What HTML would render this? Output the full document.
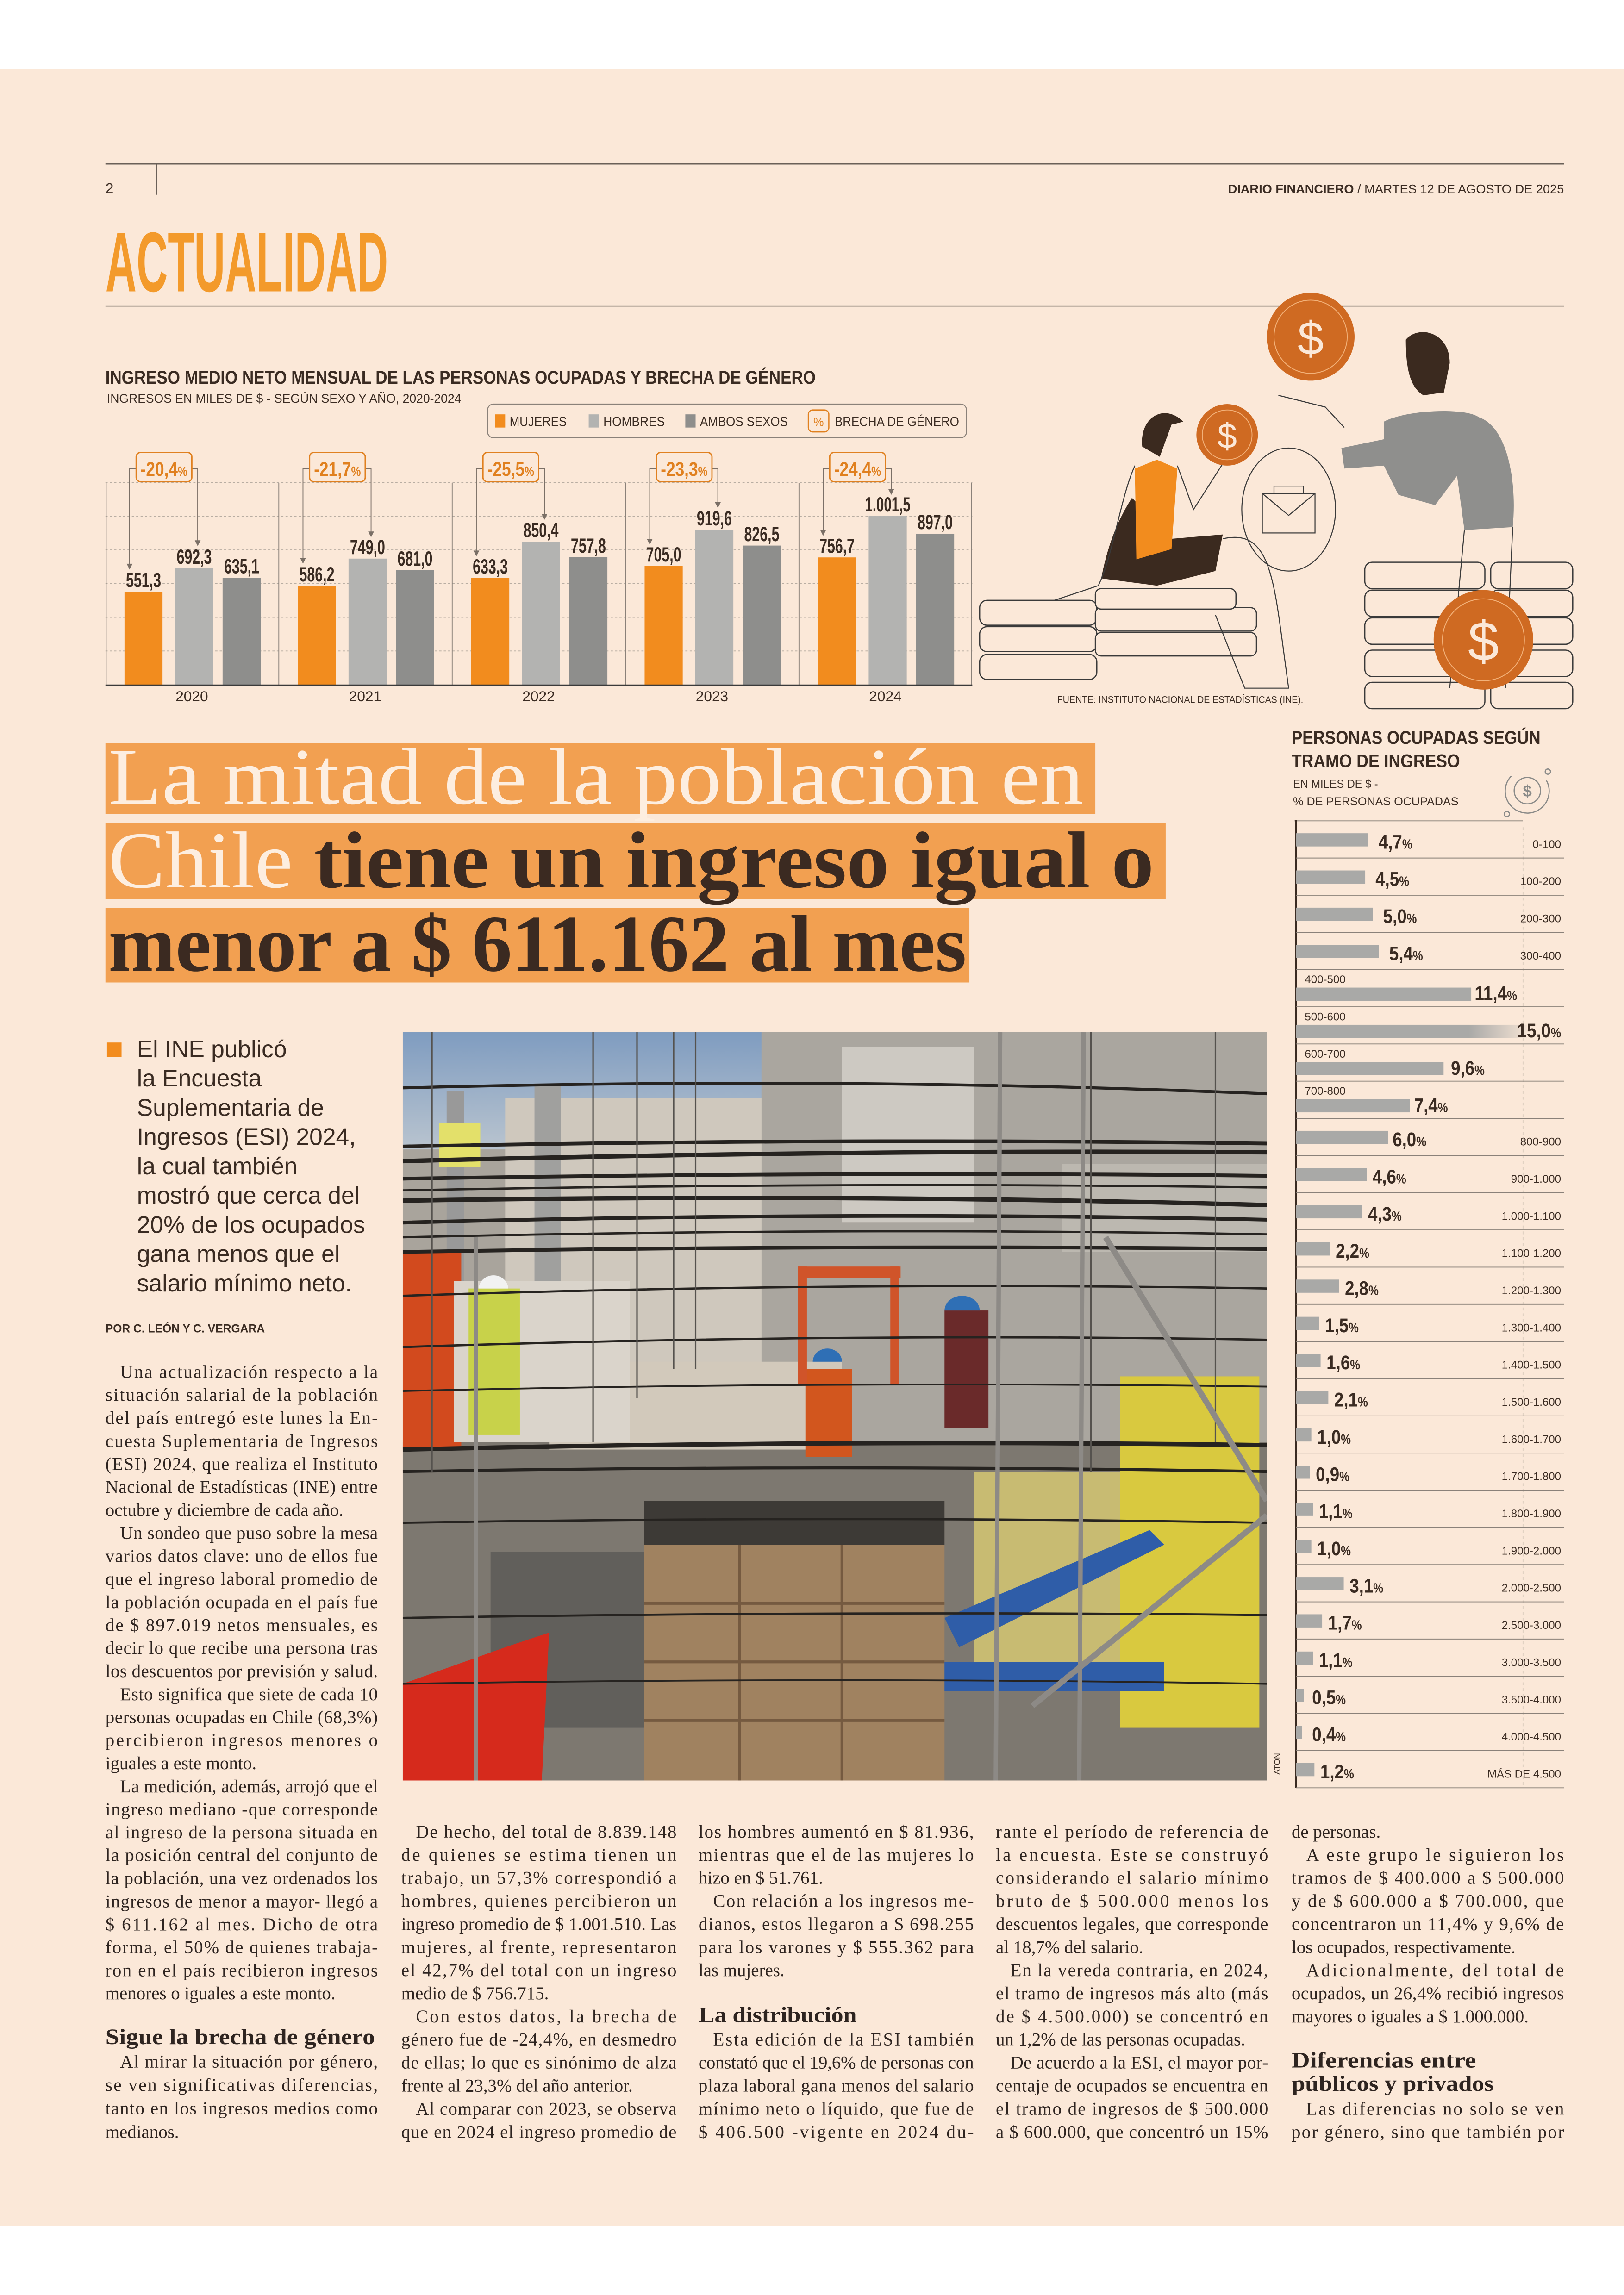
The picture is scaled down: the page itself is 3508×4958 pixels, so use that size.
<!DOCTYPE html>
<html><head><meta charset="utf-8"><style>
html,body{margin:0;padding:0;background:#fff}
svg{display:block}
</style></head><body>
<svg xmlns="http://www.w3.org/2000/svg" width="3508" height="4958" viewBox="0 0 1109 1567.4">
<style>
.b{font-family:"Liberation Serif",serif;font-size:12.3px;fill:#2e2420}
.h{font-family:"Liberation Serif",serif;font-size:15px;font-weight:bold;fill:#2e2420}
.s{font-family:"Liberation Sans",sans-serif;fill:#3a2b22}
.v{font-family:"Liberation Sans",sans-serif;font-weight:bold;font-size:14px;fill:#3a2b22}
.pc{font-family:"Liberation Sans",sans-serif;font-weight:bold;font-size:13.5px;fill:#3a2b22}
.ps{font-size:9px}
.rl{font-family:"Liberation Sans",sans-serif;font-size:7.6px;fill:#3a2b22}
.br{font-family:"Liberation Sans",sans-serif;font-weight:bold;font-size:13.5px;fill:#e0801f}
.sep{stroke:#8a8179;stroke-width:0.6}
.bar{fill:#a9a9a7}
.ln{stroke:#3a3a3a;stroke-width:0.8;fill:#fbe8d8}
</style>
<rect x="0" y="0" width="1109" height="1567.4" fill="#ffffff"/>
<rect x="0" y="47" width="1109" height="1473" fill="#fbe8d8"/>

<!-- header -->
<line x1="72" y1="112" x2="1068" y2="112" stroke="#6a6058" stroke-width="0.8"/>
<line x1="107" y1="112" x2="107" y2="133" stroke="#6a6058" stroke-width="0.8"/>
<text class="s" x="72" y="132" font-size="10">2</text>
<text class="s" x="1068" y="132" font-size="8.6" text-anchor="end"><tspan font-weight="bold">DIARIO FINANCIERO</tspan> / MARTES 12 DE AGOSTO DE 2025</text>
<text x="72" y="199" font-family="Liberation Sans,sans-serif" font-weight="bold" font-size="58" fill="#f39a2b" textLength="193" lengthAdjust="spacingAndGlyphs">ACTUALIDAD</text>
<line x1="72" y1="209" x2="1068" y2="209" stroke="#6a6058" stroke-width="0.8"/>

<!-- bar chart -->
<text class="s" x="72" y="262" font-size="12.5" font-weight="bold" textLength="485" lengthAdjust="spacingAndGlyphs">INGRESO MEDIO NETO MENSUAL DE LAS PERSONAS OCUPADAS Y BRECHA DE GÉNERO</text>
<text class="s" x="73" y="275" font-size="8.5" textLength="242" lengthAdjust="spacingAndGlyphs">INGRESOS EN MILES DE $ -  SEGÚN SEXO Y AÑO, 2020-2024</text>
<rect x="333" y="276" width="327" height="23" rx="4" fill="none" stroke="#8a8179" stroke-width="0.7"/>
<rect x="338" y="283" width="7" height="9" fill="#f28c1e"/><text class="s" x="348" y="291" font-size="9" textLength="39" lengthAdjust="spacingAndGlyphs">MUJERES</text>
<rect x="402" y="283" width="7" height="9" fill="#b3b3b1"/><text class="s" x="412" y="291" font-size="9" textLength="42" lengthAdjust="spacingAndGlyphs">HOMBRES</text>
<rect x="468" y="283" width="7" height="9" fill="#8e8e8c"/><text class="s" x="478" y="291" font-size="9" textLength="60" lengthAdjust="spacingAndGlyphs">AMBOS SEXOS</text>
<rect x="552" y="280" width="14" height="15" rx="3" fill="none" stroke="#e0801f" stroke-width="0.8"/><text x="559" y="291" font-family="Liberation Sans,sans-serif" font-size="8" fill="#e0801f" text-anchor="middle">%</text>
<text class="s" x="570" y="291" font-size="9" textLength="85" lengthAdjust="spacingAndGlyphs">BRECHA DE GÉNERO</text>

<g stroke="#b8ada2" stroke-width="0.6" stroke-dasharray="1.5,1.5">
<line x1="72" y1="329.6" x2="664" y2="329.6"/><line x1="72" y1="352.6" x2="664" y2="352.6"/><line x1="72" y1="375.6" x2="664" y2="375.6"/><line x1="72" y1="398.6" x2="664" y2="398.6"/><line x1="72" y1="421.6" x2="664" y2="421.6"/><line x1="72" y1="444.6" x2="664" y2="444.6"/>
</g>
<g stroke="#8a8179" stroke-width="0.6">
<line x1="72.5" y1="330" x2="72.5" y2="468"/><line x1="190.4" y1="330" x2="190.4" y2="468"/><line x1="308.8" y1="330" x2="308.8" y2="468"/><line x1="427.2" y1="330" x2="427.2" y2="468"/><line x1="545.6" y1="330" x2="545.6" y2="468"/><line x1="663.5" y1="330" x2="663.5" y2="468"/>
</g>
<!-- 2020 -->
<rect x="85" y="404.3" width="26" height="63.3" fill="#f28c1e"/><rect x="119.6" y="388.1" width="26" height="79.5" fill="#b3b3b1"/><rect x="152" y="394.6" width="26" height="73" fill="#8e8e8c"/>
<text class="v" x="98" y="401" text-anchor="middle" textLength="24" lengthAdjust="spacingAndGlyphs">551,3</text>
<text class="v" x="132.6" y="385" text-anchor="middle" textLength="24" lengthAdjust="spacingAndGlyphs">692,3</text>
<text class="v" x="165" y="391.5" text-anchor="middle" textLength="24" lengthAdjust="spacingAndGlyphs">635,1</text>
<!-- 2021 -->
<rect x="203.4" y="400.2" width="26" height="67.4" fill="#f28c1e"/><rect x="238" y="381.5" width="26" height="86.1" fill="#b3b3b1"/><rect x="270.4" y="389.4" width="26" height="78.2" fill="#8e8e8c"/>
<text class="v" x="216.4" y="397" text-anchor="middle" textLength="24" lengthAdjust="spacingAndGlyphs">586,2</text>
<text class="v" x="251" y="378.4" text-anchor="middle" textLength="24" lengthAdjust="spacingAndGlyphs">749,0</text>
<text class="v" x="283.4" y="386.3" text-anchor="middle" textLength="24" lengthAdjust="spacingAndGlyphs">681,0</text>
<!-- 2022 -->
<rect x="321.8" y="394.8" width="26" height="72.8" fill="#f28c1e"/><rect x="356.4" y="369.9" width="26" height="97.7" fill="#b3b3b1"/><rect x="388.8" y="380.5" width="26" height="87.1" fill="#8e8e8c"/>
<text class="v" x="334.8" y="391.7" text-anchor="middle" textLength="24" lengthAdjust="spacingAndGlyphs">633,3</text>
<text class="v" x="369.4" y="366.8" text-anchor="middle" textLength="24" lengthAdjust="spacingAndGlyphs">850,4</text>
<text class="v" x="401.8" y="377.4" text-anchor="middle" textLength="24" lengthAdjust="spacingAndGlyphs">757,8</text>
<!-- 2023 -->
<rect x="440.2" y="386.6" width="26" height="81" fill="#f28c1e"/><rect x="474.8" y="361.9" width="26" height="105.7" fill="#b3b3b1"/><rect x="507.2" y="372.6" width="26" height="95" fill="#8e8e8c"/>
<text class="v" x="453.2" y="383.5" text-anchor="middle" textLength="24" lengthAdjust="spacingAndGlyphs">705,0</text>
<text class="v" x="487.8" y="358.8" text-anchor="middle" textLength="24" lengthAdjust="spacingAndGlyphs">919,6</text>
<text class="v" x="520.2" y="369.5" text-anchor="middle" textLength="24" lengthAdjust="spacingAndGlyphs">826,5</text>
<!-- 2024 -->
<rect x="558.6" y="380.7" width="26" height="86.9" fill="#f28c1e"/><rect x="593.2" y="352.5" width="26" height="115.1" fill="#b3b3b1"/><rect x="625.6" y="364.5" width="26" height="103.1" fill="#8e8e8c"/>
<text class="v" x="571.6" y="377.6" text-anchor="middle" textLength="24" lengthAdjust="spacingAndGlyphs">756,7</text>
<text class="v" x="606.2" y="349.4" text-anchor="middle" textLength="31" lengthAdjust="spacingAndGlyphs">1.001,5</text>
<text class="v" x="638.6" y="361.4" text-anchor="middle" textLength="24" lengthAdjust="spacingAndGlyphs">897,0</text>
<line x1="72" y1="468" x2="664" y2="468" stroke="#3a3a3a" stroke-width="1"/>
<g class="s" font-size="10" text-anchor="middle">
<text x="131" y="479">2020</text><text x="249.4" y="479">2021</text><text x="367.8" y="479">2022</text><text x="486.2" y="479">2023</text><text x="604.6" y="479">2024</text>
</g>
<!-- brecha boxes -->
<g stroke="#7a6f66" stroke-width="0.6" fill="none">
<path d="M93 320 H88.5 V386"/><path d="M131 320 H135 V370"/>
<path d="M211.4 320 H206.9 V382"/><path d="M249.4 320 H253.4 V364"/>
<path d="M329.8 320 H325.3 V377"/><path d="M367.8 320 H371.8 V352"/>
<path d="M448.2 320 H443.7 V369"/><path d="M486.2 320 H490.2 V344"/>
<path d="M566.6 320 H562.1 V363"/><path d="M604.6 320 H608.6 V335"/>
</g>
<g fill="#7a6f66">
<path d="M86.5 385 L90.5 385 L88.5 389Z"/><path d="M133 369 L137 369 L135 373Z"/>
<path d="M204.9 381 L208.9 381 L206.9 385Z"/><path d="M251.4 363 L255.4 363 L253.4 367Z"/>
<path d="M323.3 376 L327.3 376 L325.3 380Z"/><path d="M369.8 351 L373.8 351 L371.8 355Z"/>
<path d="M441.7 368 L445.7 368 L443.7 372Z"/><path d="M488.2 343 L492.2 343 L490.2 347Z"/>
<path d="M560.1 362 L564.1 362 L562.1 366Z"/><path d="M606.6 334 L610.6 334 L608.6 338Z"/>
</g>
<g fill="#fbe8d8" stroke="#e0801f" stroke-width="0.9">
<rect x="93" y="309" width="38" height="20" rx="3"/><rect x="211.4" y="309" width="38" height="20" rx="3"/><rect x="329.8" y="309" width="38" height="20" rx="3"/><rect x="448.2" y="309" width="38" height="20" rx="3"/><rect x="566.6" y="309" width="38" height="20" rx="3"/>
</g>
<text class="br" x="96" y="325" textLength="32" lengthAdjust="spacingAndGlyphs">-20,4<tspan font-size="9">%</tspan></text>
<text class="br" x="214.4" y="325" textLength="32" lengthAdjust="spacingAndGlyphs">-21,7<tspan font-size="9">%</tspan></text>
<text class="br" x="332.8" y="325" textLength="32" lengthAdjust="spacingAndGlyphs">-25,5<tspan font-size="9">%</tspan></text>
<text class="br" x="451.2" y="325" textLength="32" lengthAdjust="spacingAndGlyphs">-23,3<tspan font-size="9">%</tspan></text>
<text class="br" x="569.6" y="325" textLength="32" lengthAdjust="spacingAndGlyphs">-24,4<tspan font-size="9">%</tspan></text>

<!-- illustration -->
<g>
<g class="ln">
<rect x="669" y="447" width="80" height="17" rx="5"/><rect x="669" y="428" width="80" height="17" rx="5"/><rect x="669" y="410" width="80" height="17" rx="5"/>
<rect x="748" y="432" width="110" height="16" rx="4"/><rect x="748" y="415" width="110" height="16" rx="4"/><rect x="748" y="402" width="96" height="14" rx="4"/>
</g>
<g class="ln">
<rect x="932" y="466" width="82" height="18" rx="5"/><rect x="932" y="444" width="82" height="18" rx="5"/><rect x="932" y="422" width="82" height="18" rx="5"/><rect x="932" y="403" width="82" height="18" rx="5"/><rect x="932" y="384" width="82" height="18" rx="5"/>
<rect x="1018" y="466" width="56" height="18" rx="5"/><rect x="1018" y="444" width="56" height="18" rx="5"/><rect x="1018" y="422" width="56" height="18" rx="5"/><rect x="1018" y="403" width="56" height="18" rx="5"/><rect x="1018" y="384" width="56" height="18" rx="5"/>
</g>
<ellipse cx="880" cy="348" rx="32" ry="42" fill="none" stroke="#3a3a3a" stroke-width="0.7"/>
<rect x="862" y="337" width="36" height="27" fill="none" stroke="#3a3a3a" stroke-width="0.7"/>
<path d="M870 337 V332 H890 V337 M862 337 L880 352 L898 337" fill="none" stroke="#3a3a3a" stroke-width="0.7"/>
<!-- woman -->
<path d="M773 340 C760 360 755 380 752 395 L790 400 L830 390 L835 365 L800 368 Z" fill="#3b2a1f"/>
<path d="M775 320 L790 314 L804 320 L800 375 L776 382 Z" fill="#f28c1e"/>
<path d="M775 318 C765 340 760 380 750 400 L720 410 M804 318 L815 348 L838 312 M835 368 C870 360 870 400 880 470 L850 470 L830 420" fill="none" stroke="#3a3a3a" stroke-width="0.7"/>
<path d="M780 305 C778 285 795 275 808 288 L800 290 L792 312 Z" fill="#3b2a1f"/>
<!-- man -->
<path d="M945 288 C960 280 1000 278 1010 285 C1030 292 1036 330 1033 360 L1000 362 L995 325 L980 345 L955 338 L945 318 L918 320 L916 306 L945 300 Z" fill="#8f8f8d"/>
<path d="M1000 362 L990 470 M1033 360 L1028 470" fill="none" stroke="#3a3a3a" stroke-width="0.7"/>
<path d="M960 232 C968 222 990 226 990 248 L986 268 L972 270 C964 265 960 255 960 232Z" fill="#3b2a1f"/>
<path d="M873 270 L905 278 L918 292" fill="none" stroke="#3a3a3a" stroke-width="0.7"/>
<!-- coins -->
<circle cx="895" cy="230" r="30" fill="#cf6a22"/><circle cx="895" cy="230" r="25" fill="none" stroke="#f3b27a" stroke-width="0.6"/>
<text x="895" y="242" font-family="Liberation Sans,sans-serif" font-size="32" fill="#fbe8d8" text-anchor="middle">$</text>
<circle cx="838" cy="297" r="21" fill="#cf6a22"/><circle cx="838" cy="297" r="17" fill="none" stroke="#f3b27a" stroke-width="0.6"/>
<text x="838" y="306" font-family="Liberation Sans,sans-serif" font-size="24" fill="#fbe8d8" text-anchor="middle">$</text>
<circle cx="1013" cy="437" r="34" fill="#cf6a22"/><circle cx="1013" cy="437" r="28" fill="none" stroke="#f3b27a" stroke-width="0.6"/>
<text x="1013" y="451" font-family="Liberation Sans,sans-serif" font-size="38" fill="#fbe8d8" text-anchor="middle">$</text>
</g>
<text class="s" x="722" y="480" font-size="6.6" textLength="168" lengthAdjust="spacingAndGlyphs">FUENTE: INSTITUTO NACIONAL DE ESTADÍSTICAS (INE).</text>

<!-- headline -->
<rect x="72" y="507.5" width="676" height="48.5" fill="#f2a051"/>
<rect x="72" y="562" width="724" height="52" fill="#f2a051"/>
<rect x="72" y="620" width="590" height="51" fill="#f2a051"/>
<g font-family="Liberation Serif,serif" font-size="55">
<text x="74" y="549" fill="#fdeee0" textLength="666" lengthAdjust="spacingAndGlyphs">La mitad de la población en</text>
<text x="74" y="606" fill="#3b2a21" textLength="714" lengthAdjust="spacingAndGlyphs"><tspan fill="#fdeee0">Chile</tspan> <tspan font-weight="bold">tiene un ingreso igual o</tspan></text>
<text x="74" y="663" fill="#3b2a21" font-weight="bold" textLength="586" lengthAdjust="spacingAndGlyphs">menor a $ 611.162 al mes</text>
</g>

<!-- bullet -->
<rect x="73" y="712" width="10" height="10" fill="#f28c1e"/>
<g class="s" font-size="16.3">
<text x="93.5" y="722">El INE publicó</text>
<text x="93.5" y="742">la Encuesta</text>
<text x="93.5" y="762">Suplementaria de</text>
<text x="93.5" y="782">Ingresos (ESI) 2024,</text>
<text x="93.5" y="802">la cual también</text>
<text x="93.5" y="822">mostró que cerca del</text>
<text x="93.5" y="842">20% de los ocupados</text>
<text x="93.5" y="862">gana menos que el</text>
<text x="93.5" y="882">salario mínimo neto.</text>
</g>
<text class="s" x="72" y="910" font-size="7.8" font-weight="bold">POR C. LEÓN Y C. VERGARA</text>

<!-- photo -->
<svg x="275" y="705" width="590" height="511" viewBox="0 0 590 511">
<defs><linearGradient id="sky" x1="0" y1="0" x2="0" y2="1"><stop offset="0" stop-color="#7f9cc0"/><stop offset="1" stop-color="#b9c4cf"/></linearGradient></defs>
<rect width="590" height="511" fill="#a9a49c"/>
<rect width="245" height="80" fill="url(#sky)"/>
<rect x="70" y="45" width="200" height="230" fill="#cfc8bd"/>
<rect x="245" y="0" width="345" height="300" fill="#aaa69f"/>
<rect x="300" y="10" width="90" height="120" fill="#cdc9c2"/>
<rect x="30" y="40" width="12" height="200" fill="#999"/>
<rect x="90" y="35" width="18" height="230" fill="#a0a09e"/>
<rect x="25" y="62" width="28" height="30" fill="#e3e06a"/>
<rect x="0" y="280" width="590" height="231" fill="#7d7870"/>
<rect x="100" y="225" width="200" height="60" fill="#d2c9bb"/>
<rect x="490" y="235" width="95" height="240" fill="#d9c93f"/>
<rect x="390" y="300" width="100" height="150" fill="#c8bb72"/>
<rect x="165" y="320" width="205" height="30" fill="#3d3a36"/>
<rect x="165" y="350" width="205" height="161" fill="#a08260"/>
<g stroke="#755a40" stroke-width="2"><line x1="165" y1="390" x2="370" y2="390"/><line x1="165" y1="430" x2="370" y2="430"/><line x1="165" y1="470" x2="370" y2="470"/><line x1="230" y1="350" x2="230" y2="511"/><line x1="300" y1="350" x2="300" y2="511"/></g>
<rect x="60" y="355" width="105" height="120" fill="#615f5b"/>
<path d="M0 445 L70 420 L100 410 L95 511 L0 511Z" fill="#d62a1c"/>
<path d="M370 400 L510 340 L520 350 L380 420Z" fill="#2f5da8"/>
<rect x="370" y="430" width="150" height="20" fill="#2f5da8"/>
<rect x="0" y="150" width="40" height="135" fill="#d24a1e"/>
<rect x="35" y="170" width="120" height="110" fill="#dad4cb"/>
<rect x="45" y="175" width="35" height="100" fill="#c8d24a"/>
<rect x="275" y="230" width="32" height="60" fill="#d2561e"/>
<rect x="370" y="190" width="30" height="80" fill="#6a2a2a"/>
<rect x="450" y="90" width="140" height="60" fill="#bcb8b0"/>
<path d="M52 175 a10 9 0 0 1 20 0Z" fill="#f2f2f2"/>
<path d="M370 190 a12 10 0 0 1 24 0Z" fill="#2f6fb5"/>
<path d="M280 225 a10 9 0 0 1 20 0Z" fill="#2f6fb5"/>
<rect x="270" y="160" width="70" height="8" fill="#d0542a"/><rect x="270" y="160" width="6" height="80" fill="#d0542a"/><rect x="333" y="160" width="6" height="80" fill="#d0542a"/>
<g stroke="#262320" fill="none">
<path d="M0 38 Q300 30 590 42" stroke-width="2"/>
<path d="M0 78 Q300 72 590 76" stroke-width="2.5"/>
<path d="M0 88 Q300 80 590 82" stroke-width="3"/>
<path d="M0 100 Q300 95 590 98" stroke-width="2.5"/>
<path d="M0 108 Q300 102 590 106" stroke-width="1.5"/>
<path d="M0 115 Q300 110 590 118" stroke-width="3"/>
<path d="M0 130 Q300 122 590 128" stroke-width="2.5"/>
<path d="M0 140 Q300 133 590 138" stroke-width="1.5"/>
<path d="M0 150 Q300 145 590 148" stroke-width="2.5"/>
<path d="M0 180 Q300 170 590 175" stroke-width="1.5"/>
<path d="M0 215 Q300 205 590 210" stroke-width="1.5"/>
<path d="M0 245 Q300 238 590 242" stroke-width="1.2"/>
<path d="M0 285 Q300 278 590 282" stroke-width="3"/>
<path d="M0 300 Q300 295 590 300" stroke-width="2"/>
<path d="M0 335 Q300 330 590 335" stroke-width="1.5"/>
<path d="M0 400 Q300 395 590 398" stroke-width="1.5"/>
<path d="M0 445 Q300 440 590 445" stroke-width="1.2"/>
</g>
<g stroke="#55524e" stroke-width="1"><line x1="20" y1="0" x2="20" y2="300"/><line x1="130" y1="0" x2="130" y2="280"/><line x1="160" y1="0" x2="160" y2="250"/><line x1="185" y1="0" x2="185" y2="230"/><line x1="200" y1="0" x2="200" y2="230"/><line x1="470" y1="0" x2="470" y2="300"/><line x1="555" y1="0" x2="555" y2="280"/></g>
<g stroke="#8d8a86" stroke-width="3"><line x1="408" y1="0" x2="405" y2="511"/><line x1="465" y1="0" x2="462" y2="511"/><line x1="50" y1="140" x2="50" y2="511"/></g>
<path d="M480 140 L590 320" stroke="#8d8a86" stroke-width="4"/>
<path d="M430 460 L590 330" stroke="#8d8a86" stroke-width="4"/>
</svg>
<text x="874" y="1212" font-family="Liberation Sans,sans-serif" font-size="5.5" fill="#3a2b22" transform="rotate(-90 874 1212)">ATON</text>

<!-- sidebar -->
<text class="s" x="882" y="508" font-size="12.5" font-weight="bold" textLength="170" lengthAdjust="spacingAndGlyphs">PERSONAS OCUPADAS SEGÚN</text>
<text class="s" x="882" y="524" font-size="12.5" font-weight="bold" textLength="115" lengthAdjust="spacingAndGlyphs">TRAMO DE INGRESO</text>
<text class="s" x="883" y="538" font-size="8" textLength="58" lengthAdjust="spacingAndGlyphs">EN MILES DE $ -</text>
<text class="s" x="883" y="550" font-size="8" textLength="113" lengthAdjust="spacingAndGlyphs">% DE PERSONAS OCUPADAS</text>
<g fill="none" stroke="#8a8a88" stroke-width="0.8">
<circle cx="1043" cy="540" r="9"/><path d="M1032 530 A15 15 0 1 0 1056 533"/><circle cx="1057" cy="527" r="1.8"/><circle cx="1029" cy="556" r="1.8"/>
</g>
<text x="1043" y="544" font-family="Liberation Sans,sans-serif" font-weight="bold" font-size="11" fill="#8a8a88" text-anchor="middle">$</text>
<line x1="884" y1="560.6" x2="1040" y2="560.6" class="sep"/>
<line x1="885" y1="560" x2="885" y2="1221" stroke="#3a2b22" stroke-width="1"/>
<line x1="1040" y1="565" x2="1040" y2="1221" stroke="#c9bdb0" stroke-width="0.5" stroke-dasharray="2,2"/>
<g class="sep">
<line x1="885" y1="586" x2="1068" y2="586"/><line x1="885" y1="611.4" x2="1068" y2="611.4"/><line x1="885" y1="636.8" x2="1068" y2="636.8"/><line x1="885" y1="662.2" x2="1068" y2="662.2"/><line x1="885" y1="687.6" x2="1068" y2="687.6"/><line x1="885" y1="713" x2="1068" y2="713"/><line x1="885" y1="738.4" x2="1068" y2="738.4"/><line x1="885" y1="763.8" x2="1068" y2="763.8"/><line x1="885" y1="789.2" x2="1068" y2="789.2"/><line x1="885" y1="814.6" x2="1068" y2="814.6"/><line x1="885" y1="840" x2="1068" y2="840"/><line x1="885" y1="865.4" x2="1068" y2="865.4"/><line x1="885" y1="890.8" x2="1068" y2="890.8"/><line x1="885" y1="916.2" x2="1068" y2="916.2"/><line x1="885" y1="941.6" x2="1068" y2="941.6"/><line x1="885" y1="967" x2="1068" y2="967"/><line x1="885" y1="992.4" x2="1068" y2="992.4"/><line x1="885" y1="1017.8" x2="1068" y2="1017.8"/><line x1="885" y1="1043.2" x2="1068" y2="1043.2"/><line x1="885" y1="1068.6" x2="1068" y2="1068.6"/><line x1="885" y1="1094" x2="1068" y2="1094"/><line x1="885" y1="1119.4" x2="1068" y2="1119.4"/><line x1="885" y1="1144.8" x2="1068" y2="1144.8"/><line x1="885" y1="1170.2" x2="1068" y2="1170.2"/><line x1="885" y1="1195.6" x2="1068" y2="1195.6"/><line x1="885" y1="1221" x2="1068" y2="1221"/>
</g>
<g>
<rect class="bar" x="885" y="569.1" width="49.4" height="9"/><text class="pc" x="941.4" y="579.6" textLength="23" lengthAdjust="spacingAndGlyphs">4,7<tspan class="ps">%</tspan></text><text class="rl" x="1066" y="579.1" text-anchor="end">0-100</text>
<rect class="bar" x="885" y="594.5" width="47.3" height="9"/><text class="pc" x="939.3" y="605" textLength="23" lengthAdjust="spacingAndGlyphs">4,5<tspan class="ps">%</tspan></text><text class="rl" x="1066" y="604.5" text-anchor="end">100-200</text>
<rect class="bar" x="885" y="619.9" width="52.5" height="9"/><text class="pc" x="944.5" y="630.4" textLength="23" lengthAdjust="spacingAndGlyphs">5,0<tspan class="ps">%</tspan></text><text class="rl" x="1066" y="629.9" text-anchor="end">200-300</text>
<rect class="bar" x="885" y="645.3" width="56.7" height="9"/><text class="pc" x="948.7" y="655.8" textLength="23" lengthAdjust="spacingAndGlyphs">5,4<tspan class="ps">%</tspan></text><text class="rl" x="1066" y="655.3" text-anchor="end">300-400</text>
<rect class="bar" x="885" y="674.5" width="119.7" height="9"/><text class="pc" x="1007" y="683" textLength="29" lengthAdjust="spacingAndGlyphs">11,4<tspan class="ps">%</tspan></text><text class="rl" x="891" y="671.5">400-500</text>
<defs><linearGradient id="fade" x1="0" x2="1"><stop offset="0.75" stop-color="#a9a9a7"/><stop offset="1" stop-color="#a9a9a7" stop-opacity="0.1"/></linearGradient></defs>
<rect x="885" y="699.9" width="157.5" height="9" fill="url(#fade)"/><text class="pc" x="1036" y="708.5" textLength="30" lengthAdjust="spacingAndGlyphs">15,0<tspan class="ps">%</tspan></text><text class="rl" x="891" y="696.9">500-600</text>
<rect class="bar" x="885" y="725.3" width="100.8" height="9"/><text class="pc" x="990.8" y="734" textLength="23" lengthAdjust="spacingAndGlyphs">9,6<tspan class="ps">%</tspan></text><text class="rl" x="891" y="722.3">600-700</text>
<rect class="bar" x="885" y="750.7" width="77.7" height="9"/><text class="pc" x="965.7" y="759.5" textLength="23" lengthAdjust="spacingAndGlyphs">7,4<tspan class="ps">%</tspan></text><text class="rl" x="891" y="747.7">700-800</text>
<rect class="bar" x="885" y="772.3" width="63" height="9"/><text class="pc" x="951" y="782.8" textLength="23" lengthAdjust="spacingAndGlyphs">6,0<tspan class="ps">%</tspan></text><text class="rl" x="1066" y="782.3" text-anchor="end">800-900</text>
<rect class="bar" x="885" y="797.7" width="48.3" height="9"/><text class="pc" x="937.3" y="808.2" textLength="23" lengthAdjust="spacingAndGlyphs">4,6<tspan class="ps">%</tspan></text><text class="rl" x="1066" y="807.7" text-anchor="end">900-1.000</text>
<rect class="bar" x="885" y="823.1" width="45.2" height="9"/><text class="pc" x="934.2" y="833.6" textLength="23" lengthAdjust="spacingAndGlyphs">4,3<tspan class="ps">%</tspan></text><text class="rl" x="1066" y="833.1" text-anchor="end">1.000-1.100</text>
<rect class="bar" x="885" y="848.5" width="23.1" height="9"/><text class="pc" x="912.1" y="859" textLength="23" lengthAdjust="spacingAndGlyphs">2,2<tspan class="ps">%</tspan></text><text class="rl" x="1066" y="858.5" text-anchor="end">1.100-1.200</text>
<rect class="bar" x="885" y="873.9" width="29.4" height="9"/><text class="pc" x="918.4" y="884.4" textLength="23" lengthAdjust="spacingAndGlyphs">2,8<tspan class="ps">%</tspan></text><text class="rl" x="1066" y="883.9" text-anchor="end">1.200-1.300</text>
<rect class="bar" x="885" y="899.3" width="15.8" height="9"/><text class="pc" x="904.8" y="909.8" textLength="23" lengthAdjust="spacingAndGlyphs">1,5<tspan class="ps">%</tspan></text><text class="rl" x="1066" y="909.3" text-anchor="end">1.300-1.400</text>
<rect class="bar" x="885" y="924.7" width="16.8" height="9"/><text class="pc" x="905.8" y="935.2" textLength="23" lengthAdjust="spacingAndGlyphs">1,6<tspan class="ps">%</tspan></text><text class="rl" x="1066" y="934.7" text-anchor="end">1.400-1.500</text>
<rect class="bar" x="885" y="950.1" width="22.1" height="9"/><text class="pc" x="911.1" y="960.6" textLength="23" lengthAdjust="spacingAndGlyphs">2,1<tspan class="ps">%</tspan></text><text class="rl" x="1066" y="960.1" text-anchor="end">1.500-1.600</text>
<rect class="bar" x="885" y="975.5" width="10.5" height="9"/><text class="pc" x="899.5" y="986" textLength="23" lengthAdjust="spacingAndGlyphs">1,0<tspan class="ps">%</tspan></text><text class="rl" x="1066" y="985.5" text-anchor="end">1.600-1.700</text>
<rect class="bar" x="885" y="1000.9" width="9.5" height="9"/><text class="pc" x="898.5" y="1011.4" textLength="23" lengthAdjust="spacingAndGlyphs">0,9<tspan class="ps">%</tspan></text><text class="rl" x="1066" y="1010.9" text-anchor="end">1.700-1.800</text>
<rect class="bar" x="885" y="1026.3" width="11.6" height="9"/><text class="pc" x="900.6" y="1036.8" textLength="23" lengthAdjust="spacingAndGlyphs">1,1<tspan class="ps">%</tspan></text><text class="rl" x="1066" y="1036.3" text-anchor="end">1.800-1.900</text>
<rect class="bar" x="885" y="1051.7" width="10.5" height="9"/><text class="pc" x="899.5" y="1062.2" textLength="23" lengthAdjust="spacingAndGlyphs">1,0<tspan class="ps">%</tspan></text><text class="rl" x="1066" y="1061.7" text-anchor="end">1.900-2.000</text>
<rect class="bar" x="885" y="1077.1" width="32.6" height="9"/><text class="pc" x="921.6" y="1087.6" textLength="23" lengthAdjust="spacingAndGlyphs">3,1<tspan class="ps">%</tspan></text><text class="rl" x="1066" y="1087.1" text-anchor="end">2.000-2.500</text>
<rect class="bar" x="885" y="1102.5" width="17.9" height="9"/><text class="pc" x="906.9" y="1113" textLength="23" lengthAdjust="spacingAndGlyphs">1,7<tspan class="ps">%</tspan></text><text class="rl" x="1066" y="1112.5" text-anchor="end">2.500-3.000</text>
<rect class="bar" x="885" y="1127.9" width="11.6" height="9"/><text class="pc" x="900.6" y="1138.4" textLength="23" lengthAdjust="spacingAndGlyphs">1,1<tspan class="ps">%</tspan></text><text class="rl" x="1066" y="1137.9" text-anchor="end">3.000-3.500</text>
<rect class="bar" x="885" y="1153.3" width="5.3" height="9"/><text class="pc" x="896" y="1163.8" textLength="23" lengthAdjust="spacingAndGlyphs">0,5<tspan class="ps">%</tspan></text><text class="rl" x="1066" y="1163.3" text-anchor="end">3.500-4.000</text>
<rect class="bar" x="885" y="1178.7" width="4.2" height="9"/><text class="pc" x="896" y="1189.2" textLength="23" lengthAdjust="spacingAndGlyphs">0,4<tspan class="ps">%</tspan></text><text class="rl" x="1066" y="1188.7" text-anchor="end">4.000-4.500</text>
<rect class="bar" x="885" y="1204.1" width="12.6" height="9"/><text class="pc" x="901.6" y="1214.6" textLength="23" lengthAdjust="spacingAndGlyphs">1,2<tspan class="ps">%</tspan></text><text class="rl" x="1066" y="1214.1" text-anchor="end">MÁS DE 4.500</text>
</g>

<!-- column 1 -->
<g class="b">
<text x="82" y="941" textLength="176" lengthAdjust="spacing">Una actualización respecto a la</text>
<text x="72" y="956.7" textLength="186" lengthAdjust="spacing">situación salarial de la población</text>
<text x="72" y="972.4" textLength="186" lengthAdjust="spacing">del país entregó este lunes la En-</text>
<text x="72" y="988.2" textLength="186" lengthAdjust="spacing">cuesta Suplementaria de Ingresos</text>
<text x="72" y="1003.9" textLength="186" lengthAdjust="spacing">(ESI) 2024, que realiza el Instituto</text>
<text x="72" y="1019.6" textLength="186" lengthAdjust="spacing">Nacional de Estadísticas (INE) entre</text>
<text x="72" y="1035.3">octubre y diciembre de cada año.</text>
<text x="82" y="1051" textLength="176" lengthAdjust="spacing">Un sondeo que puso sobre la mesa</text>
<text x="72" y="1066.8" textLength="186" lengthAdjust="spacing">varios datos clave: uno de ellos fue</text>
<text x="72" y="1082.5" textLength="186" lengthAdjust="spacing">que el ingreso laboral promedio de</text>
<text x="72" y="1098.2" textLength="186" lengthAdjust="spacing">la población ocupada en el país fue</text>
<text x="72" y="1113.9" textLength="186" lengthAdjust="spacing">de $ 897.019 netos mensuales, es</text>
<text x="72" y="1129.6" textLength="186" lengthAdjust="spacing">decir lo que recibe una persona tras</text>
<text x="72" y="1145.4" textLength="186" lengthAdjust="spacing">los descuentos por previsión y salud.</text>
<text x="82" y="1161.1" textLength="176" lengthAdjust="spacing">Esto significa que siete de cada 10</text>
<text x="72" y="1176.8" textLength="186" lengthAdjust="spacing">personas ocupadas en Chile (68,3%)</text>
<text x="72" y="1192.5" textLength="186" lengthAdjust="spacing">percibieron ingresos menores o</text>
<text x="72" y="1208.2">iguales a este monto.</text>
<text x="82" y="1224" textLength="176" lengthAdjust="spacing">La medición, además, arrojó que el</text>
<text x="72" y="1239.7" textLength="186" lengthAdjust="spacing">ingreso mediano -que corresponde</text>
<text x="72" y="1255.4" textLength="186" lengthAdjust="spacing">al ingreso de la persona situada en</text>
<text x="72" y="1271.1" textLength="186" lengthAdjust="spacing">la posición central del conjunto de</text>
<text x="72" y="1286.8" textLength="186" lengthAdjust="spacing">la población, una vez ordenados los</text>
<text x="72" y="1302.6" textLength="186" lengthAdjust="spacing">ingresos de menor a mayor- llegó a</text>
<text x="72" y="1318.3" textLength="186" lengthAdjust="spacing">$ 611.162 al mes. Dicho de otra</text>
<text x="72" y="1334" textLength="186" lengthAdjust="spacing">forma, el 50% de quienes trabaja-</text>
<text x="72" y="1349.7" textLength="186" lengthAdjust="spacing">ron en el país recibieron ingresos</text>
<text x="72" y="1365.4">menores o iguales a este monto.</text>
<text x="82" y="1412" textLength="176" lengthAdjust="spacing">Al mirar la situación por género,</text>
<text x="72" y="1428" textLength="186" lengthAdjust="spacing">se ven significativas diferencias,</text>
<text x="72" y="1444" textLength="186" lengthAdjust="spacing">tanto en los ingresos medios como</text>
<text x="72" y="1460">medianos.</text>
</g>
<text class="h" x="72" y="1396" textLength="184" lengthAdjust="spacingAndGlyphs">Sigue la brecha de género</text>

<!-- column 2 -->
<g class="b">
<text x="284" y="1255" textLength="178" lengthAdjust="spacing">De hecho, del total de 8.839.148</text>
<text x="274" y="1270.8" textLength="188" lengthAdjust="spacing">de quienes se estima tienen un</text>
<text x="274" y="1286.5" textLength="188" lengthAdjust="spacing">trabajo, un 57,3% correspondió a</text>
<text x="274" y="1302.3" textLength="188" lengthAdjust="spacing">hombres, quienes percibieron un</text>
<text x="274" y="1318.1" textLength="188" lengthAdjust="spacing">ingreso promedio de $ 1.001.510. Las</text>
<text x="274" y="1333.9" textLength="188" lengthAdjust="spacing">mujeres, al frente, representaron</text>
<text x="274" y="1349.6" textLength="188" lengthAdjust="spacing">el 42,7% del total con un ingreso</text>
<text x="274" y="1365.4">medio de $ 756.715.</text>
<text x="284" y="1381.2" textLength="178" lengthAdjust="spacing">Con estos datos, la brecha de</text>
<text x="274" y="1396.9" textLength="188" lengthAdjust="spacing">género fue de -24,4%, en desmedro</text>
<text x="274" y="1412.7" textLength="188" lengthAdjust="spacing">de ellas; lo que es sinónimo de alza</text>
<text x="274" y="1428.5">frente al 23,3% del año anterior.</text>
<text x="284" y="1444.3" textLength="178" lengthAdjust="spacing">Al comparar con 2023, se observa</text>
<text x="274" y="1460" textLength="188" lengthAdjust="spacing">que en 2024 el ingreso promedio de</text>
</g>

<!-- column 3 -->
<g class="b">
<text x="477" y="1255" textLength="188" lengthAdjust="spacing">los hombres aumentó en $ 81.936,</text>
<text x="477" y="1270.8" textLength="188" lengthAdjust="spacing">mientras que el de las mujeres lo</text>
<text x="477" y="1286.5">hizo en $ 51.761.</text>
<text x="487" y="1302.3" textLength="178" lengthAdjust="spacing">Con relación a los ingresos me-</text>
<text x="477" y="1318.1" textLength="188" lengthAdjust="spacing">dianos, estos llegaron a $ 698.255</text>
<text x="477" y="1333.9" textLength="188" lengthAdjust="spacing">para los varones y  $ 555.362 para</text>
<text x="477" y="1349.6">las mujeres.</text>
<text x="487" y="1396.9" textLength="178" lengthAdjust="spacing">Esta edición de la ESI también</text>
<text x="477" y="1412.7" textLength="188" lengthAdjust="spacing">constató que el 19,6% de personas con</text>
<text x="477" y="1428.5" textLength="188" lengthAdjust="spacing">plaza laboral gana menos del salario</text>
<text x="477" y="1444.3" textLength="188" lengthAdjust="spacing">mínimo neto o líquido, que fue de</text>
<text x="477" y="1460" textLength="188" lengthAdjust="spacing">$ 406.500 -vigente en 2024 du-</text>
</g>
<text class="h" x="477" y="1381" textLength="108" lengthAdjust="spacingAndGlyphs">La distribución</text>

<!-- column 4 -->
<g class="b">
<text x="680" y="1255" textLength="186" lengthAdjust="spacing">rante el período de referencia de</text>
<text x="680" y="1270.8" textLength="186" lengthAdjust="spacing">la encuesta. Este se construyó</text>
<text x="680" y="1286.5" textLength="186" lengthAdjust="spacing">considerando el salario mínimo</text>
<text x="680" y="1302.3" textLength="186" lengthAdjust="spacing">bruto de $ 500.000 menos los</text>
<text x="680" y="1318.1" textLength="186" lengthAdjust="spacing">descuentos legales, que corresponde</text>
<text x="680" y="1333.9">al 18,7% del salario.</text>
<text x="690" y="1349.6" textLength="176" lengthAdjust="spacing">En la vereda contraria, en 2024,</text>
<text x="680" y="1365.4" textLength="186" lengthAdjust="spacing">el tramo de ingresos más alto (más</text>
<text x="680" y="1381.2" textLength="186" lengthAdjust="spacing">de $ 4.500.000) se concentró en</text>
<text x="680" y="1396.9">un 1,2% de las personas ocupadas.</text>
<text x="690" y="1412.7" textLength="176" lengthAdjust="spacing">De acuerdo a la ESI, el mayor por-</text>
<text x="680" y="1428.5" textLength="186" lengthAdjust="spacing">centaje de ocupados se encuentra en</text>
<text x="680" y="1444.3" textLength="186" lengthAdjust="spacing">el tramo de ingresos de $ 500.000</text>
<text x="680" y="1460" textLength="186" lengthAdjust="spacing">a $ 600.000, que concentró un 15%</text>
</g>

<!-- column 5 -->
<g class="b">
<text x="882" y="1255">de personas.</text>
<text x="892" y="1270.8" textLength="176" lengthAdjust="spacing">A este grupo le siguieron los</text>
<text x="882" y="1286.5" textLength="186" lengthAdjust="spacing">tramos de $ 400.000 a $ 500.000</text>
<text x="882" y="1302.3" textLength="186" lengthAdjust="spacing">y de $ 600.000 a $ 700.000, que</text>
<text x="882" y="1318.1" textLength="186" lengthAdjust="spacing">concentraron un 11,4% y 9,6% de</text>
<text x="882" y="1333.9">los ocupados, respectivamente.</text>
<text x="892" y="1349.6" textLength="176" lengthAdjust="spacing">Adicionalmente, del total de</text>
<text x="882" y="1365.4" textLength="186" lengthAdjust="spacing">ocupados, un 26,4% recibió ingresos</text>
<text x="882" y="1381.2">mayores o iguales a $ 1.000.000.</text>
<text x="892" y="1444.3" textLength="176" lengthAdjust="spacing">Las diferencias no solo se ven</text>
<text x="882" y="1460" textLength="186" lengthAdjust="spacing">por género, sino que también por</text>
</g>
<text class="h" x="882" y="1412" textLength="126" lengthAdjust="spacingAndGlyphs">Diferencias entre</text>
<text class="h" x="882" y="1428" textLength="138" lengthAdjust="spacingAndGlyphs">públicos y privados</text>
</svg>
</body></html>
